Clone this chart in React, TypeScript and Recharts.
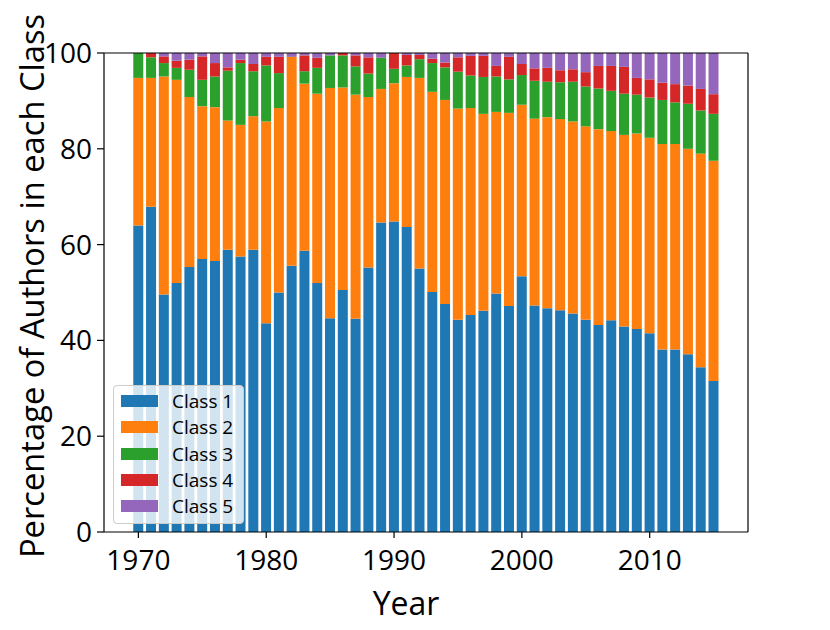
import React from 'react';
import { BarChart, Bar, XAxis, YAxis, Legend } from 'recharts';

const years = [
  1970, 1971, 1972, 1973, 1974, 1975, 1976, 1977, 1978, 1979,
  1980, 1981, 1982, 1983, 1984, 1985, 1986, 1987, 1988, 1989,
  1990, 1991, 1992, 1993, 1994, 1995, 1996, 1997, 1998, 1999,
  2000, 2001, 2002, 2003, 2004, 2005, 2006, 2007, 2008, 2009,
  2010, 2011, 2012, 2013, 2014, 2015,
];

const class1 = [
  64.0, 67.9, 49.6, 52.0, 55.3, 57.0, 56.6, 58.9, 57.5, 58.9,
  43.6, 50.0, 55.6, 58.7, 52.0, 44.6, 50.5, 44.5, 55.2, 64.6,
  64.8, 63.7, 55.0, 50.1, 47.6, 44.3, 45.3, 46.2, 49.8, 47.2,
  53.4, 47.3, 46.7, 46.3, 45.6, 44.3, 43.2, 44.2, 42.9, 42.4,
  41.5, 38.1, 38.1, 37.1, 34.4, 31.5,
];

const class2 = [
  30.8, 26.9, 45.5, 42.4, 35.5, 31.9, 32.1, 27.0, 27.5, 27.9,
  42.1, 38.5, 43.6, 34.9, 39.5, 48.1, 42.3, 46.8, 35.6, 27.9,
  28.9, 31.3, 39.8, 41.8, 42.6, 44.1, 43.2, 41.1, 37.9, 40.3,
  35.8, 39.0, 39.9, 39.9, 40.1, 40.4, 40.9, 39.5, 40.0, 40.8,
  40.8, 42.9, 42.9, 42.9, 44.6, 46.0,
];

const class3 = [
  5.2, 4.3, 2.8, 2.5, 5.7, 5.5, 6.4, 10.4, 12.9, 9.4,
  11.7, 7.3, 0.0, 2.6, 5.4, 6.8, 6.7, 5.9, 4.9, 6.5,
  3.0, 2.4, 3.9, 6.0, 6.8, 7.7, 6.8, 7.7, 7.4, 7.0,
  6.2, 7.9, 7.4, 7.7, 8.3, 8.3, 8.5, 8.4, 8.6, 8.1,
  8.4, 9.2, 8.7, 9.4, 9.0, 9.8,
];

const class4 = [
  0.0, 0.9, 1.4, 1.5, 2.1, 4.9, 2.8, 0.7, 0.7, 1.5,
  1.8, 3.4, 0.0, 3.3, 2.1, 0.0, 0.5, 2.3, 3.4, 0.0,
  3.3, 2.2, 0.9, 0.9, 1.0, 3.0, 4.1, 4.4, 2.2, 4.7,
  2.3, 2.6, 2.9, 2.5, 2.6, 3.0, 4.7, 5.2, 5.6, 3.5,
  3.8, 3.6, 3.8, 3.8, 4.5, 4.1,
];

const class5 = [
  0.0, 0.0, 0.7, 1.6, 1.4, 0.7, 2.1, 3.0, 1.4, 2.3,
  0.8, 0.8, 0.8, 0.5, 1.0, 0.5, 0.0, 0.5, 0.9, 1.0,
  0.0, 0.4, 0.4, 1.2, 2.0, 0.9, 0.6, 0.6, 2.7, 0.8,
  2.3, 3.2, 3.1, 3.6, 3.4, 4.0, 2.7, 2.7, 2.9, 5.2,
  5.5, 6.2, 6.5, 6.8, 7.5, 8.6,
];

const xTicks = [1970, 1980, 1990, 2000, 2010];
const yTicks = [0, 20, 40, 60, 80, 100];
const seriesNames = ['Class 1', 'Class 2', 'Class 3', 'Class 4', 'Class 5'];
const seriesColors = ['#1f77b4', '#ff7f0e', '#2ca02c', '#d62728', '#9467bd'];

const data = years.map((year, i) => ({
  year,
  c1: class1[i],
  c2: class2[i],
  c3: class3[i],
  c4: class4[i],
  c5: class5[i],
}));

const FONT = '"Open Sans", sans-serif';

const LegendBox = (props: any) => {
  const payload = props.payload || [];
  return (
    <div
      style={{
        boxSizing: 'border-box',
        width: 131,
        height: 139,
        border: '1px solid #cccccc',
        borderRadius: 4,
        background: 'rgba(255,255,255,0.8)',
        paddingTop: 2,
        fontFamily: FONT,
      }}
    >
      {payload.map((entry: any) => (
        <div
          key={entry.value}
          style={{ height: 26.3, position: 'relative' }}
        >
          <div
            style={{
              position: 'absolute',
              left: 7,
              top: 7,
              width: 37,
              height: 12,
              background: entry.color,
            }}
          />
          <span
            style={{
              position: 'absolute',
              left: 58,
              top: 0,
              fontSize: 19,
              color: '#000',
              lineHeight: '26px',
              whiteSpace: 'nowrap',
            }}
          >
            {entry.value}
          </span>
        </div>
      ))}
    </div>
  );
};

export default function App() {
  return (
    <div style={{ margin: -8, width: 830, height: 630 }}>
      <BarChart
        width={830}
        height={630}
        data={data}
        margin={{ top: 52, right: 81, bottom: 0, left: 0 }}
        barCategoryGap="10%"
        barGap={0}
      >
        <XAxis
          dataKey="year"
          type="number"
          domain={[1967.31, 2017.69]}
          allowDataOverflow
          ticks={xTicks}
          height={98}
          tickSize={6}
          tickMargin={12}
          tick={{ fill: '#000', fontSize: 28, fontFamily: FONT }}
          axisLine={{ stroke: '#000', strokeWidth: 1.2 }}
          tickLine={{ stroke: '#000', strokeWidth: 1.2 }}
          label={{
            content: () => (
              <text x={406} y={615} textAnchor="middle" fontSize={32} fontFamily={FONT} fill="#000">
                Year
              </text>
            ),
          }}
        />
        <XAxis
          xAxisId="top"
          dataKey="year"
          type="number"
          orientation="top"
          domain={[1967.31, 2017.69]}
          allowDataOverflow
          height={1}
          tick={false}
          tickLine={false}
          axisLine={{ stroke: '#000', strokeWidth: 1.2 }}
        />
        <YAxis
          type="number"
          domain={[0, 100]}
          allowDataOverflow
          ticks={yTicks}
          width={104}
          tickSize={7}
          tickMargin={5}
          tick={{ fill: '#000', fontSize: 28, fontFamily: FONT }}
          axisLine={{ stroke: '#000', strokeWidth: 1.2 }}
          tickLine={{ stroke: '#000', strokeWidth: 1.2 }}
          label={{
            content: () => (
              <text
                x={44}
                y={286}
                transform="rotate(-90 44 286)"
                textAnchor="middle"
                fontSize={32.7}
                fontFamily={FONT}
                fill="#000"
              >
                Percentage of Authors in each Class
              </text>
            ),
          }}
        />
        <YAxis
          yAxisId="right"
          orientation="right"
          type="number"
          domain={[0, 100]}
          width={1}
          tick={false}
          tickLine={false}
          axisLine={{ stroke: '#000', strokeWidth: 1.2 }}
        />
        <Legend
          layout="vertical"
          align="center"
          verticalAlign="middle"
          content={LegendBox}
          wrapperStyle={{ left: 113, top: 385, width: 131, height: 139 }}
        />
        <Bar dataKey="c1" name={seriesNames[0]} stackId="a" fill={seriesColors[0]} isAnimationActive={false} />
        <Bar dataKey="c2" name={seriesNames[1]} stackId="a" fill={seriesColors[1]} isAnimationActive={false} />
        <Bar dataKey="c3" name={seriesNames[2]} stackId="a" fill={seriesColors[2]} isAnimationActive={false} />
        <Bar dataKey="c4" name={seriesNames[3]} stackId="a" fill={seriesColors[3]} isAnimationActive={false} />
        <Bar dataKey="c5" name={seriesNames[4]} stackId="a" fill={seriesColors[4]} isAnimationActive={false} />
      </BarChart>
    </div>
  );
}
